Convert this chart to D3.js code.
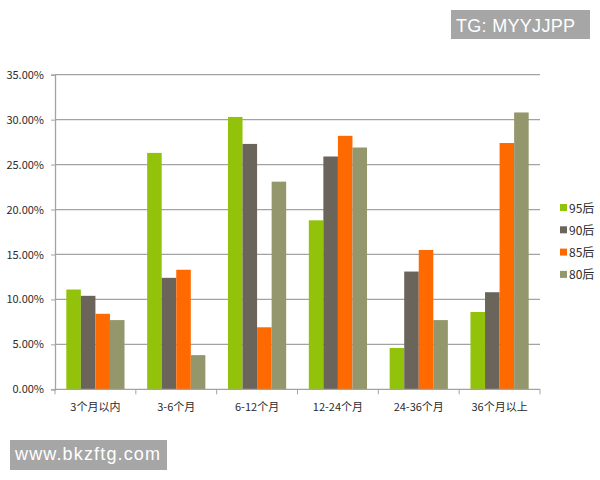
<!DOCTYPE html>
<html><head><meta charset="utf-8">
<script src="https://cdn.jsdelivr.net/npm/d3@7"></script>
<style>body{margin:0;background:#fff;} svg{display:block;}</style>
</head><body>
<script>
const categories = ["3个月以内","3-6个月","6-12个月","12-24个月","24-36个月","36个月以上"];
const seriesNames = ["95后","90后","85后","80后"];
const s95 = [11.1, 26.3, 30.3, 18.8, 4.6, 8.6];
const s90 = [10.4, 12.4, 27.3, 25.9, 13.1, 10.8];
const s85 = [8.4, 13.3, 6.9, 28.2, 15.5, 27.4];
const s80 = [7.7, 3.8, 23.1, 26.9, 7.7, 30.8];
const yTicks = [0, 5, 10, 15, 20, 25, 30, 35];
const colors = ["#92C30A", "#6B645B", "#FF6A00", "#94966B"];
const allSeries = [s95, s90, s85, s80];

const W = 600, H = 480;
const svg = d3.select("body").append("svg").attr("width", W).attr("height", H);
const pLeft = 55, pRight = 540, pTop = 74.7, pBottom = 389.3;
const x = d3.scaleBand().domain(categories).range([pLeft, pRight]).paddingInner(0.28).paddingOuter(0.14);
const xs = d3.scaleBand().domain(seriesNames).range([0, x.bandwidth()]);
const y = d3.scaleLinear().domain([0, 35]).range([pBottom, pTop]);
const font = "'Noto Sans CJK SC', 'Microsoft YaHei', sans-serif";

// gridlines
svg.append("g").selectAll("line").data(yTicks.slice(1)).join("line")
  .attr("x1", pLeft).attr("x2", pRight).attr("y1", d => y(d)).attr("y2", d => y(d))
  .attr("stroke", "#a3a3a3").attr("stroke-width", 1.3);

// y axis
const ya = svg.append("g").attr("transform", `translate(${pLeft},0)`)
  .call(d3.axisLeft(y).tickValues(yTicks).tickFormat(d => d.toFixed(2) + "%").tickSize(4).tickPadding(7));
ya.select(".domain").attr("stroke", "#a3a3a3").attr("stroke-width", 1.3);
ya.selectAll(".tick line").attr("stroke", "#a3a3a3");
ya.selectAll("text").attr("font-family", font).attr("font-size", 11).attr("fill", "#2b2b2b");

// bars
const g = svg.append("g");
allSeries.forEach((vals, si) => {
  g.append("g").selectAll("rect").data(vals).join("rect")
    .attr("x", (d, i) => x(categories[i]) + xs(seriesNames[si]))
    .attr("width", xs.bandwidth())
    .attr("y", d => y(d))
    .attr("height", d => y(0) - y(d))
    .attr("fill", colors[si]);
});

// x axis
const xBound = d3.scaleLinear().domain([0, categories.length]).range([pLeft, pRight]);
const xa = svg.append("g").attr("transform", `translate(0,${pBottom})`);
xa.append("line").attr("x1", pLeft).attr("x2", pRight).attr("stroke", "#a3a3a3").attr("stroke-width", 1.3);
xa.selectAll("line.tk").data(d3.range(categories.length + 1)).join("line").attr("class", "tk")
  .attr("x1", d => xBound(d)).attr("x2", d => xBound(d)).attr("y1", 0).attr("y2", 5)
  .attr("stroke", "#a3a3a3");
xa.selectAll("text").data(categories).join("text")
  .attr("x", d => x(d) + x.bandwidth() / 2).attr("y", 22)
  .attr("text-anchor", "middle").attr("font-family", font).attr("font-size", 11).attr("fill", "#2b2b2b")
  .text(d => d);

// legend
const lg = svg.append("g");
seriesNames.forEach((n, i) => {
  const ly = 208 + i * 22.3;
  lg.append("rect").attr("x", 560).attr("y", ly - 4).attr("width", 7).attr("height", 7).attr("fill", colors[i]);
  lg.append("text").attr("x", 569).attr("y", ly + 4.5).attr("font-family", font).attr("font-size", 12).attr("fill", "#2b2b2b").text(n);
});

// watermarks
const wmFont = "'Liberation Sans', Arial, sans-serif";
svg.append("rect").attr("x", 451).attr("y", 10).attr("width", 139).attr("height", 29).attr("fill", "#a6a6a6");
svg.append("text").attr("x", 456).attr("y", 31.5).attr("font-family", wmFont).attr("font-size", 18)
  .attr("textLength", 119).attr("fill", "#fff").text("TG: MYYJJPP");
svg.append("rect").attr("x", 10).attr("y", 440).attr("width", 157).attr("height", 30).attr("fill", "#a6a6a6");
svg.append("text").attr("x", 15).attr("y", 460).attr("font-family", wmFont).attr("font-size", 18)
  .attr("textLength", 145).attr("fill", "#fff").text("www.bkzftg.com");
</script>
</body></html>
